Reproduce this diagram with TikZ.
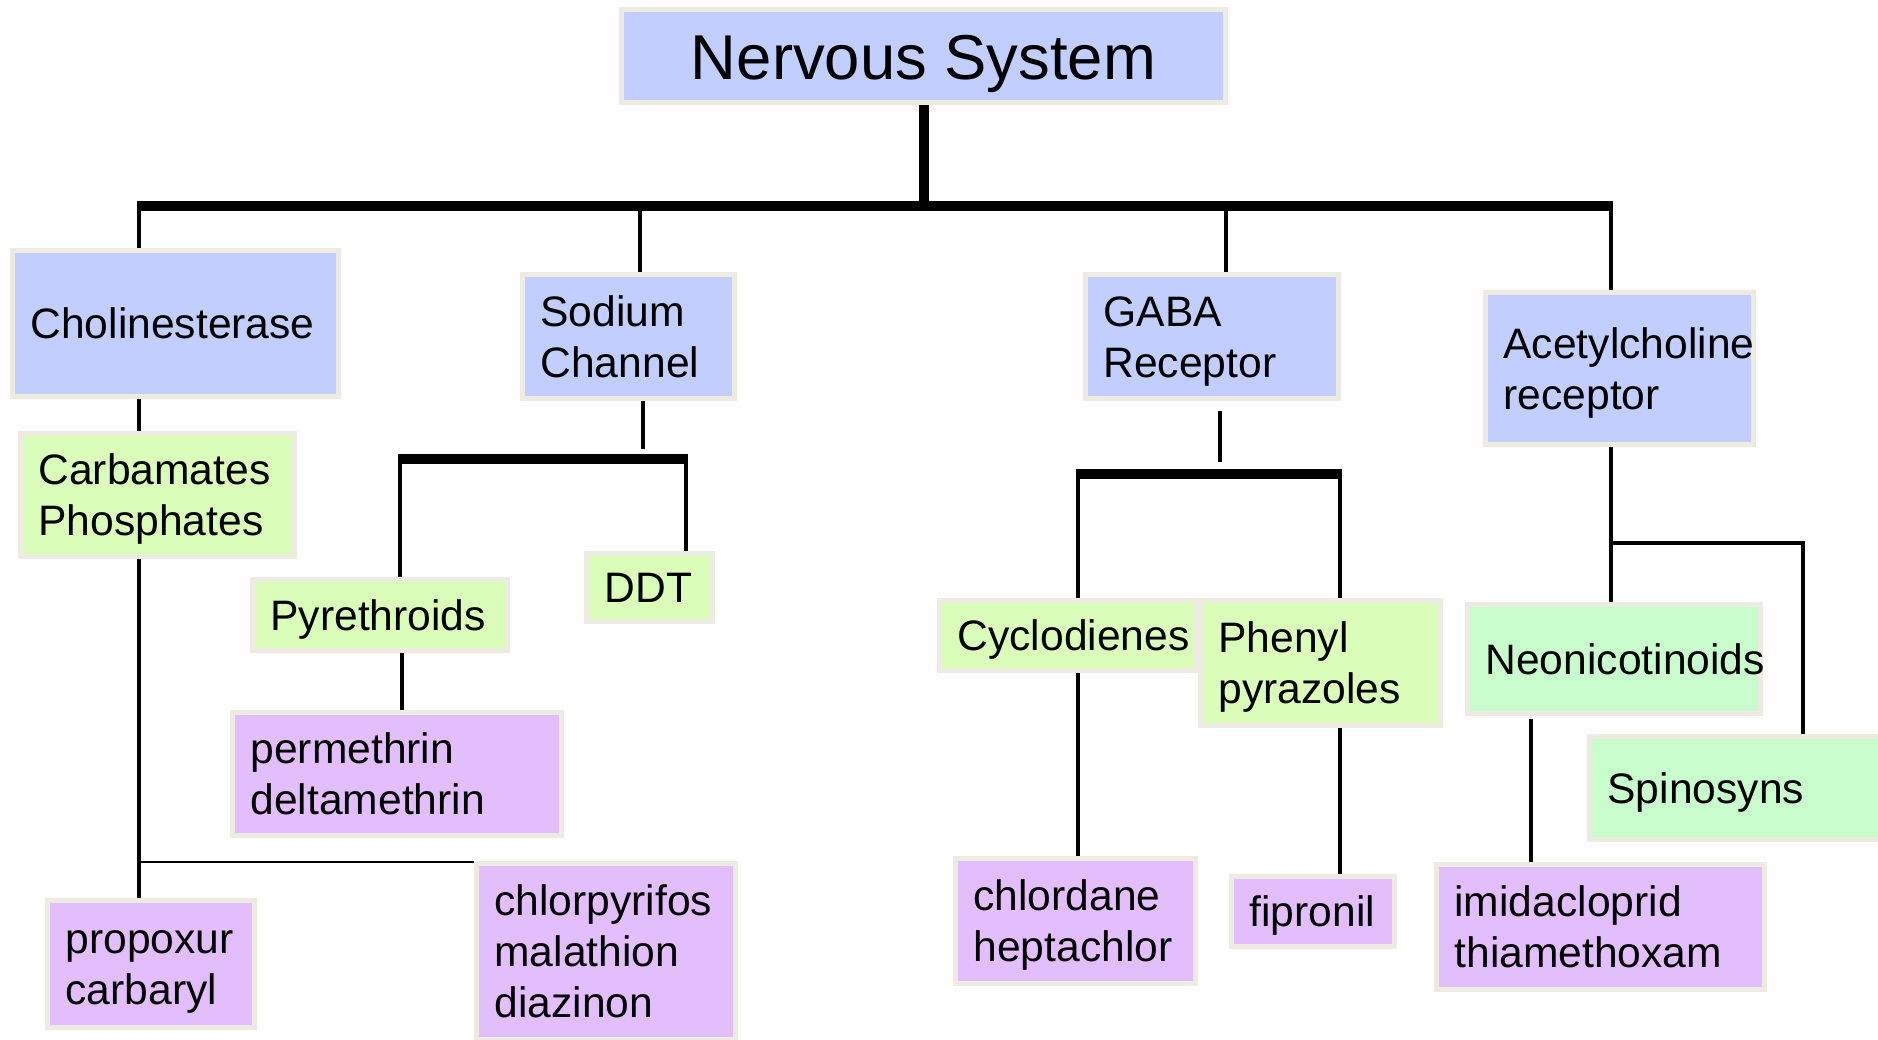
\documentclass[tikz,border=0pt]{standalone}
\usepackage{fontspec}
\setmainfont{Liberation Sans}
\usetikzlibrary{calc}
\definecolor{cBlue}{RGB}{194,206,253}
\definecolor{cLime}{RGB}{219,253,186}
\definecolor{cMint}{RGB}{201,252,204}
\definecolor{cPurp}{RGB}{226,191,252}
\definecolor{cBord}{RGB}{238,236,226}
\tikzset{
  bx/.style={draw=cBord, line width=5pt, inner xsep=18pt, inner ysep=0pt, align=left,
    font=\fontsize{42.6pt}{51pt}\selectfont,
    execute at begin node={\rule{0pt}{40.6pt}},
    execute at end node={\rule[-10pt]{0pt}{10pt}}},
  bluebox/.style={bx, fill=cBlue},
  limebox/.style={bx, fill=cLime},
  mintbox/.style={bx, fill=cMint},
  purpbox/.style={bx, fill=cPurp},
  conn/.style={line width=4pt},
  barline/.style={line width=10pt},
  thinline/.style={line width=2pt}
}
\begin{document}
\begin{tikzpicture}[x=1pt,y=-1pt]
\useasboundingbox (0,0) rectangle (1878,1040);
\fill[white] (0,0) rectangle (1878,1040);

% nodes
\node[bluebox, align=center, minimum width=604pt, minimum height=93pt,
  execute at begin node={}, execute at end node={},
  text height=48pt, text depth=0pt,
  font=\fontsize{63.4pt}{70pt}\selectfont] (ns) at (923.5,56) {Nervous System};
\node[bluebox, text width=290pt, minimum height=146pt] (ch) at (175.5,323.5) {Cholinesterase};
\node[bluebox, text width=176pt, minimum height=124pt] (sc) at (628.5,336.5) {Sodium\\Channel};
\node[bluebox, text width=217pt, minimum height=124pt] (ga) at (1212,336.5) {GABA\\Receptor};
\node[bluebox, text width=232pt, minimum height=152pt] (ac) at (1619.5,368.5) {Acetylcholine\\receptor};

\node[limebox, text width=238pt, minimum height=123pt] (cp) at (157.5,495) {Carbamates\\Phosphates};
\node[purpbox, text width=171pt, minimum height=127pt] (pc) at (151,964) {propoxur\\carbaryl};
\node[purpbox, text width=223pt, minimum height=176pt] (cm) at (606,951.5) {chlorpyrifos\\malathion\\diazinon};

\node[limebox, text width=219pt, minimum height=71pt] (py) at (380,615) {Pyrethroids};
\node[limebox, text width=90pt, minimum height=68pt] (dd) at (649.5,587.5) {DDT};
\node[purpbox, text width=293pt, minimum height=123pt] (pe) at (397,774) {permethrin\\deltamethrin};

\node[limebox, text width=220pt, minimum height=70pt] (cy) at (1067.5,635.5) {Cyclodienes};
\node[limebox, text width=204pt, minimum height=125pt] (pp) at (1320.5,663) {Phenyl\\pyrazoles};
\node[purpbox, text width=204pt, minimum height=125pt] (cd) at (1075.5,921) {chlordane\\heptachlor};
\node[purpbox, text width=127pt, minimum height=70pt] (fi) at (1313,911.5) {fipronil};

\node[mintbox, text width=257pt, minimum height=109pt] (ne) at (1614,659) {Neonicotinoids};
\node[mintbox, text width=272pt, minimum height=103pt] (sp) at (1743.5,788) {Spinosyns};
\node[purpbox, text width=292pt, minimum height=125pt] (im) at (1600.5,927) {imidacloprid\\thiamethoxam};

% main bar
\coordinate (d1) at (139,206);
\coordinate (d2) at (640,206);
\coordinate (d3) at (1226,206);
\coordinate (d4) at (1611,206);
\draw[barline] (ns.south) -- (ns.south |- d1);
\draw[barline] ([xshift=-2pt]d1) -- ([xshift=2pt]d4);
\draw[conn] (d1) -- (d1 |- ch.north);
\draw[conn] (d2) -- (d2 |- sc.north);
\draw[conn] (d3) -- (d3 |- ga.north);
\draw[conn] (d4) -- (d4 |- ac.north);

% cholinesterase branch
\draw[conn] (ch.south -| d1) -- (cp.north -| d1);
\draw[conn] (cp.south -| d1) -- (pc.north -| d1);
\coordinate (t1) at (139,862);
\draw[thinline] (t1) -- (t1 -| cm.west);

% sodium channel branch
\coordinate (s0) at (643,449);
\coordinate (sL) at (400,459);
\coordinate (sR) at (686,459);
\draw[conn] (sc.south -| s0) -- (s0);
\draw[barline] ([xshift=-2pt]sL) -- ([xshift=2pt]sR);
\draw[conn] (sL) -- (sL |- py.north);
\draw[conn] (sR) -- (sR |- dd.north);
\coordinate (p1) at (402,680);
\draw[conn] (py.south -| p1) -- (pe.north -| p1);

% GABA branch
\coordinate (g0) at (1220,462);
\coordinate (gL) at (1078,474);
\coordinate (gR) at (1340,474);
\draw[conn] ($(ga.south -| g0)+(0,10)$) -- (g0);
\draw[barline] ([xshift=-2pt]gL) -- ([xshift=2pt]gR);
\draw[conn] (gL) -- (gL |- cy.north);
\draw[conn] (gR) -- (gR |- pp.north);
\draw[conn] (cy.south -| gL) -- (cd.north -| gL);
\draw[conn] (pp.south -| gR) -- (fi.north -| gR);

% acetylcholine branch
\draw[conn] (ac.south -| d4) -- (ne.north -| d4);
\coordinate (a1) at (1611,543);
\coordinate (a2) at (1803,543);
\draw[conn] ([xshift=-2pt]a1) -- (a2) -- (a2 |- sp.north);
\coordinate (n1) at (1531,800);
\draw[conn] ($(ne.south -| n1)+(0,3)$) -- (im.north -| n1);
\end{tikzpicture}
\end{document}
